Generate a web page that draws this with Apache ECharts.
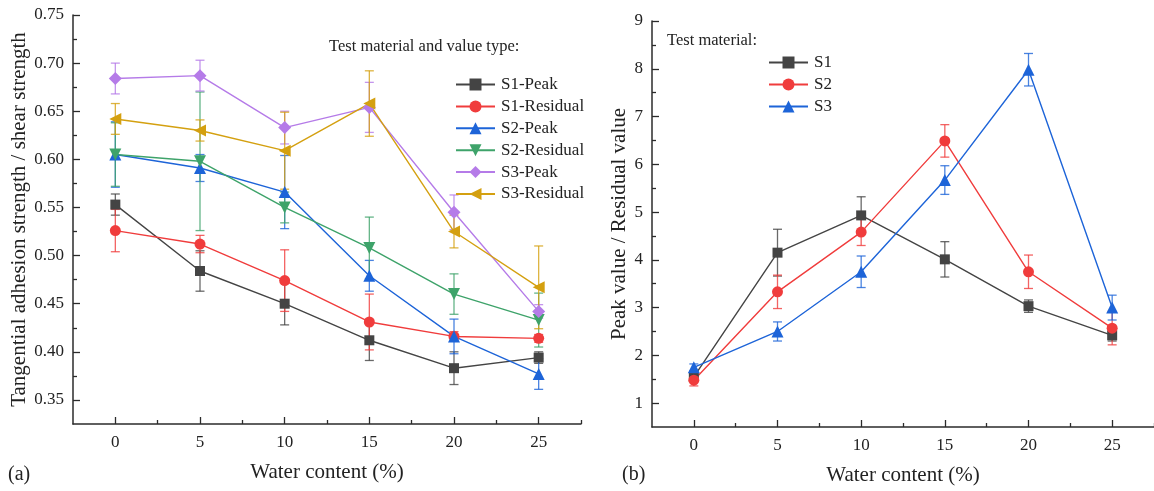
<!DOCTYPE html>
<html>
<head>
<meta charset="utf-8">
<script src="https://cdn.jsdelivr.net/npm/echarts@6/dist/echarts.min.js"></script>
<style>
  html, body { margin: 0; padding: 0; background: #fff; }
  #chart { width: 1154px; height: 491px; }
</style>
</head>
<body>
<div id="chart"></div>
<script>
// Water content levels (%)
const waterContent = [0, 5, 10, 15, 20, 25];

// (a) Tangential adhesion strength / shear strength, mean and error
const s1Peak = [0.553, 0.484, 0.450, 0.412, 0.383, 0.394];
const s1PeakErr = [0.011, 0.021, 0.022, 0.021, 0.017, 0.006];
const s1Residual = [0.526, 0.512, 0.474, 0.431, 0.416, 0.414];
const s1ResidualErr = [0.022, 0.009, 0.032, 0.029, 0.005, 0.004];
const s2Peak = [0.605, 0.591, 0.566, 0.479, 0.416, 0.377];
const s2PeakErr = [0.034, 0.014, 0.038, 0.016, 0.018, 0.016];
const s2Residual = [0.605, 0.598, 0.550, 0.508, 0.460, 0.433];
const s2ResidualErr = [0.033, 0.072, 0.016, 0.032, 0.021, 0.028];
const s3Peak = [0.684, 0.687, 0.633, 0.654, 0.545, 0.442];
const s3PeakErr = [0.016, 0.016, 0.017, 0.026, 0.018, 0.007];
const s3Residual = [0.642, 0.630, 0.609, 0.658, 0.525, 0.467];
const s3ResidualErr = [0.016, 0.011, 0.040, 0.034, 0.017, 0.043];

// (b) Peak value / residual value, mean and error
const s1Ratio = [1.55, 4.15, 4.93, 4.01, 3.03, 2.42];
const s1RatioErr = [0.08, 0.49, 0.39, 0.37, 0.13, 0.12];
const s2Ratio = [1.48, 3.33, 4.58, 6.49, 3.75, 2.57];
const s2RatioErr = [0.12, 0.35, 0.28, 0.34, 0.35, 0.35];
const s3Ratio = [1.75, 2.50, 3.75, 5.67, 7.98, 3.00];
const s3RatioErr = [0.07, 0.20, 0.33, 0.30, 0.34, 0.26];

// Tick labels
const xTicks = [0, 5, 10, 15, 20, 25];
const xMinorTicks = [2.5, 7.5, 12.5, 17.5, 22.5, 27.5];
const yTicksA = [0.35, 0.40, 0.45, 0.50, 0.55, 0.60, 0.65, 0.70, 0.75];
const yMinorTicksA = [0.375, 0.425, 0.475, 0.525, 0.575, 0.625, 0.675, 0.725];
const yTicksB = [1, 2, 3, 4, 5, 6, 7, 8, 9];
const yMinorTicksB = [1.5, 2.5, 3.5, 4.5, 5.5, 6.5, 7.5, 8.5];

const FONT = "'Liberation Serif', 'Times New Roman', serif";
const AXIS_COLOR = '#2b2b2b';
const TEXT_COLOR = '#222';

const C = {
  black: '#444444',
  red: '#f03c3c',
  blue: '#1d64d8',
  green: '#3ea36a',
  purple: '#b57be8',
  gold: '#d4a010'
};

function mainXAxis(gridIndex) {
  return {
    type: 'value', gridIndex, min: -2.5, max: 27.5, position: 'bottom',
    axisLine: { show: true, onZero: false, lineStyle: { color: AXIS_COLOR, width: 1.5 } },
    axisTick: { show: true, inside: true, length: 7, customValues: xTicks, lineStyle: { color: AXIS_COLOR, width: 1.3 } },
    axisLabel: { customValues: xTicks, fontSize: 17, fontFamily: FONT, color: TEXT_COLOR, margin: 10 },
    splitLine: { show: false },
    name: 'Water content (%)', nameLocation: 'middle', nameGap: 38,
    nameTextStyle: { fontSize: 21, fontFamily: FONT, color: TEXT_COLOR }
  };
}
function minorXAxis(gridIndex) {
  return {
    type: 'value', gridIndex, min: -2.5, max: 27.5, position: 'bottom',
    axisLine: { show: false, onZero: false },
    axisTick: { show: true, inside: true, length: 4, customValues: xMinorTicks, lineStyle: { color: AXIS_COLOR, width: 1.3 } },
    axisLabel: { show: false }, splitLine: { show: false }
  };
}
function mainYAxis(gridIndex, min, max, ticks, digits, name, nameGap) {
  return {
    type: 'value', gridIndex, min, max, position: 'left',
    axisLine: { show: true, onZero: false, lineStyle: { color: AXIS_COLOR, width: 1.5 } },
    axisTick: { show: true, inside: true, length: 7, customValues: ticks, lineStyle: { color: AXIS_COLOR, width: 1.3 } },
    axisLabel: {
      customValues: ticks, fontSize: 17, fontFamily: FONT, color: TEXT_COLOR, margin: 9,
      formatter: v => Number(v).toFixed(digits)
    },
    splitLine: { show: false },
    name, nameLocation: 'middle', nameGap,
    nameTextStyle: { fontSize: 21, fontFamily: FONT, color: TEXT_COLOR }
  };
}
function minorYAxis(gridIndex, min, max, ticks) {
  return {
    type: 'value', gridIndex, min, max, position: 'left',
    axisLine: { show: false, onZero: false },
    axisTick: { show: true, inside: true, length: 4, customValues: ticks, lineStyle: { color: AXIS_COLOR, width: 1.3 } },
    axisLabel: { show: false }, splitLine: { show: false }
  };
}

function lineSeries(name, values, color, symbol, rotate, size, xi, yi) {
  return {
    type: 'line', name, xAxisIndex: xi, yAxisIndex: yi,
    data: values.map((v, i) => [waterContent[i], v]),
    symbol, symbolSize: size, symbolRotate: rotate,
    lineStyle: { color, width: 1.4 },
    itemStyle: { color, opacity: 1 },
    z: 3, animation: false
  };
}

function errorSeries(values, errs, color, xi, yi) {
  return {
    type: 'custom', xAxisIndex: xi, yAxisIndex: yi, silent: true, z: 2, animation: false,
    data: values.map((v, i) => [waterContent[i], v - errs[i], v + errs[i]]),
    encode: { x: 0, y: [1, 2] },
    renderItem: (params, api) => {
      const lo = api.coord([api.value(0), api.value(1)]);
      const hi = api.coord([api.value(0), api.value(2)]);
      const w = 4.5;
      const style = { stroke: color, lineWidth: 1.3, opacity: 0.8 };
      return {
        type: 'group',
        children: [
          { type: 'line', shape: { x1: lo[0], y1: lo[1], x2: hi[0], y2: hi[1] }, style },
          { type: 'line', shape: { x1: lo[0] - w, y1: lo[1], x2: lo[0] + w, y2: lo[1] }, style },
          { type: 'line', shape: { x1: hi[0] - w, y1: hi[1], x2: hi[0] + w, y2: hi[1] }, style }
        ]
      };
    }
  };
}

const leftSet = [
  ['S1-Peak', s1Peak, s1PeakErr, C.black, 'rect', 0, 10],
  ['S1-Residual', s1Residual, s1ResidualErr, C.red, 'circle', 0, 11],
  ['S2-Peak', s2Peak, s2PeakErr, C.blue, 'triangle', 0, 12],
  ['S2-Residual', s2Residual, s2ResidualErr, C.green, 'triangle', 180, 12],
  ['S3-Peak', s3Peak, s3PeakErr, C.purple, 'diamond', 0, 13],
  ['S3-Residual', s3Residual, s3ResidualErr, C.gold, 'triangle', 90, 12]
];
const rightSet = [
  ['S1', s1Ratio, s1RatioErr, C.black, 'rect', 0, 10],
  ['S2', s2Ratio, s2RatioErr, C.red, 'circle', 0, 11],
  ['S3', s3Ratio, s3RatioErr, C.blue, 'triangle', 0, 12]
];

const series = [];
leftSet.forEach(([n, v, e, c, s, r, sz]) => series.push(errorSeries(v, e, c, 0, 0)));
rightSet.forEach(([n, v, e, c, s, r, sz]) => series.push(errorSeries(v, e, c, 2, 2)));
leftSet.forEach(([n, v, e, c, s, r, sz]) => series.push(lineSeries(n, v, c, s, r, sz, 0, 0)));
rightSet.forEach(([n, v, e, c, s, r, sz]) => series.push(lineSeries(n, v, c, s, r, sz, 2, 2)));

const option = {
  backgroundColor: '#fff',
  animation: false,
  grid: [
    { left: 73, top: 15, width: 508, height: 409 },
    { left: 652, top: 21, width: 504, height: 406 }
  ],
  xAxis: [mainXAxis(0), minorXAxis(0), mainXAxis(1), minorXAxis(1)],
  yAxis: [
    mainYAxis(0, 0.325, 0.75, yTicksA, 2, 'Tangential adhesion strength / shear strength', 42),
    minorYAxis(0, 0.325, 0.75, yMinorTicksA),
    mainYAxis(1, 0.5, 9, yTicksB, 0, 'Peak value / Residual value', 22),
    minorYAxis(1, 0.5, 9, yMinorTicksB)
  ],
  legend: [
    {
      data: leftSet.map(d => d[0]), orient: 'vertical', left: 455, top: 76,
      itemWidth: 39, itemHeight: 15, itemGap: 4.9, padding: 0,
      textStyle: { fontSize: 17, fontFamily: FONT, color: TEXT_COLOR, padding: [0, 0, 0, 1] },
      selectedMode: false
    },
    {
      data: rightSet.map(d => d[0]), orient: 'vertical', left: 768, top: 54,
      itemWidth: 39, itemHeight: 15, itemGap: 5, padding: 0,
      textStyle: { fontSize: 17, fontFamily: FONT, color: TEXT_COLOR, padding: [0, 0, 0, 1] },
      selectedMode: false
    }
  ],
  graphic: [
    { type: 'text', left: 329, top: 38, style: { text: 'Test material and value type:', font: `16.5px ${FONT}`, fill: TEXT_COLOR } },
    { type: 'text', left: 667, top: 32, style: { text: 'Test material:', font: `16.5px ${FONT}`, fill: TEXT_COLOR } },
    { type: 'text', left: 8, top: 465, style: { text: '(a)', font: `20px ${FONT}`, fill: TEXT_COLOR } },
    { type: 'text', left: 622, top: 465, style: { text: '(b)', font: `20px ${FONT}`, fill: TEXT_COLOR } }
  ],
  series
};

const chart = echarts.init(document.getElementById('chart'), null, { renderer: 'canvas' });
chart.setOption(option);
</script>
</body>
</html>
